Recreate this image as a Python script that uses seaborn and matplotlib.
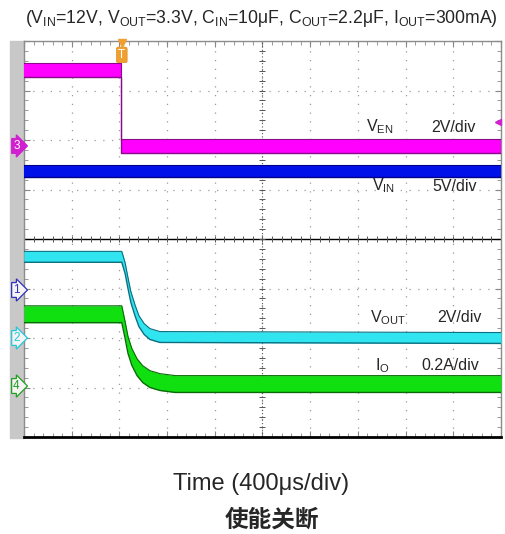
import numpy as np
import matplotlib
matplotlib.use("Agg")
import matplotlib.pyplot as plt
from matplotlib.patches import Rectangle
from matplotlib.ticker import MultipleLocator
import pandas as pd
import seaborn as sns

# scope traces, in screen divisions (10 x 8 grid, bottom-left = 0,0)
ven_t = [0.0, 2.03, 2.03, 10.0]
ven_y = [7.41, 7.41, 5.88, 5.88]

vin_t = [0.0, 10.0]
vin_y = [5.37, 5.37]

vout_t = [0.0, 2.05, 2.12, 2.18, 2.24, 2.33, 2.41, 2.52, 2.64, 2.85, 10.0]
vout_y = [3.64, 3.64, 3.41, 3.11, 2.83, 2.55, 2.34, 2.18, 2.08, 2.02, 2.00]

io_t = [0.0, 2.05, 2.12, 2.18, 2.26, 2.37, 2.49, 2.64, 2.85, 3.17, 10.0]
io_y = [2.48, 2.48, 2.16, 1.86, 1.62, 1.41, 1.27, 1.17, 1.11, 1.07, 1.07]

# trace name, band half height, fill colour, edge colour
traces = [
    ("VEN", ven_t, ven_y, 0.14, "#ff00ff", "#8a0a8a"),
    ("VIN", vin_t, vin_y, 0.12, "#0010e8", "#00008a"),
    ("VOUT", vout_t, vout_y, 0.11, "#30e4f0", "#0a6f80"),
    ("IO", io_t, io_y, 0.17, "#10e010", "#0a6a0a"),
]

# channel markers on the left strip: label, level, colour, filled
channels = [("3", 5.88, "#d020d0", True), ("1", 2.97, "#3030c0", False),
            ("2", 2.0, "#20c8d8", False), ("4", 1.03, "#20a020", False)]

trig_t = 2.05
trig_level = 6.36

sns.set_theme(style="white")
plt.rcParams['font.family'] = ['Liberation Sans', 'Noto Sans CJK SC', 'DejaVu Sans']
plt.rcParams['mathtext.fontset'] = 'custom'
plt.rcParams['mathtext.rm'] = 'Liberation Sans'

fig = plt.figure(figsize=(5.06, 5.34), dpi=100)
ax = fig.add_axes([24/506, 1-437/534, 477/506, 396/534])
ax.set_xlim(0, 10)
ax.set_ylim(0, 8)

# grey channel strip
fig.add_artist(Rectangle((10/506, 1-438/534), 14/506, 397/534,
                         transform=fig.transFigure, color="#c8c8c8", zorder=0))

# dotted graticule
ax.xaxis.set_major_locator(MultipleLocator(1))
ax.yaxis.set_major_locator(MultipleLocator(1))
ax.xaxis.set_minor_locator(MultipleLocator(0.2))
ax.yaxis.set_minor_locator(MultipleLocator(0.2))
ax.grid(which="major", color="#9a9a9a", linestyle=(0, (1, 6)), lw=0.9)
ax.tick_params(which="both", direction="in", top=True, right=True, left=True,
               bottom=True, labelbottom=False, labelleft=False, color="#888888")
ax.tick_params(which="major", length=4, width=0.8)
ax.tick_params(which="minor", length=3, width=0.6)
for side in ["top", "right", "left"]:
    ax.spines[side].set_color("#8c8c8c")
    ax.spines[side].set_linewidth(1.0)
ax.spines["bottom"].set_color("black")
ax.spines["bottom"].set_linewidth(2.0)

# centre lines with their tick marks
ax.axhline(4, color="black", lw=1.0, zorder=1)
ax.axvline(5, color="#555555", lw=0.8, linestyle=(0, (1, 2)), zorder=1)
ax.plot(np.arange(0, 10.01, 0.2), np.full(51, 4.0), ls="none", marker="|",
        ms=4, color="#555555", mew=0.7)
ax.plot(np.full(41, 5.0), np.arange(0, 8.01, 0.2), ls="none", marker="_",
        ms=4, color="#555555", mew=0.7)

for name, t, y, h, fc, ec in traces:
    df = pd.DataFrame({"t": t, "hi": np.array(y) + h, "lo": np.array(y) - h})
    ax.fill_between(df.t, df.lo, df.hi, color=fc, lw=0, zorder=3)
    sns.lineplot(data=df, x="t", y="hi", ax=ax, color=ec, lw=0.8, sort=False,
                 estimator=None, zorder=4)
    sns.lineplot(data=df, x="t", y="lo", ax=ax, color=ec, lw=1.0, sort=False,
                 estimator=None, zorder=4)

ax.set_xlabel("")
ax.set_ylabel("")

# channel markers
for lab, lev, col, filled in channels:
    ax.text(-0.16, lev, lab, ha="center", va="center", fontsize=8.5,
            color="white" if filled else col, clip_on=False, zorder=6,
            bbox=dict(boxstyle="rarrow,pad=0.12", fc=col if filled else "#f4f4f4",
                      ec=col, lw=0.9))

# trigger position and level markers
ax.text(trig_t, 7.72, "T", ha="center", va="center", fontsize=8.5, color="white",
        clip_on=False, zorder=6,
        bbox=dict(boxstyle="round,pad=0.15", fc="#f0a030", ec="#e09020", lw=0.5))
ax.plot([trig_t], [7.95], marker="v", ms=6, color="#f0a030", clip_on=False, zorder=6)
ax.plot([9.93], [trig_level], marker="<", ms=5, color="#d020d0", clip_on=False, zorder=6)

# channel labels
lab_fs = 11.5
ax.text(7.17, 6.26, r"$\mathregular{V_{EN}}$", fontsize=lab_fs, va="center")
ax.text(8.53, 6.26, "2V/div", fontsize=lab_fs, va="center")
ax.text(7.3, 5.07, r"$\mathregular{V_{IN}}$", fontsize=lab_fs, va="center")
ax.text(8.57, 5.07, "5V/div", fontsize=lab_fs, va="center")
ax.text(7.25, 2.42, r"$\mathregular{V_{OUT}}$", fontsize=lab_fs, va="center")
ax.text(8.66, 2.42, "2V/div", fontsize=lab_fs, va="center")
ax.text(7.36, 1.45, r"$\mathregular{I_{O}}$", fontsize=lab_fs, va="center")
ax.text(8.34, 1.45, "0.2A/div", fontsize=lab_fs, va="center")

fig.text(0.516, 0.966,
         r"($\mathregular{V_{IN}}$=12V, $\mathregular{V_{OUT}}$=3.3V, "
         r"$\mathregular{C_{IN}}$=10μF, $\mathregular{C_{OUT}}$=2.2μF, "
         r"$\mathregular{I_{OUT}}$=300mA)",
         ha="center", va="center", fontsize=12.7)
fig.text(0.516, 0.094, "Time (400μs/div)", ha="center", va="center", fontsize=17)
fig.text(0.538, 0.026, "使能关断", ha="center", va="center", fontsize=17,
         family=["Noto Sans CJK SC", "DejaVu Sans"], weight="bold")

fig.savefig("out.png", dpi=100)
